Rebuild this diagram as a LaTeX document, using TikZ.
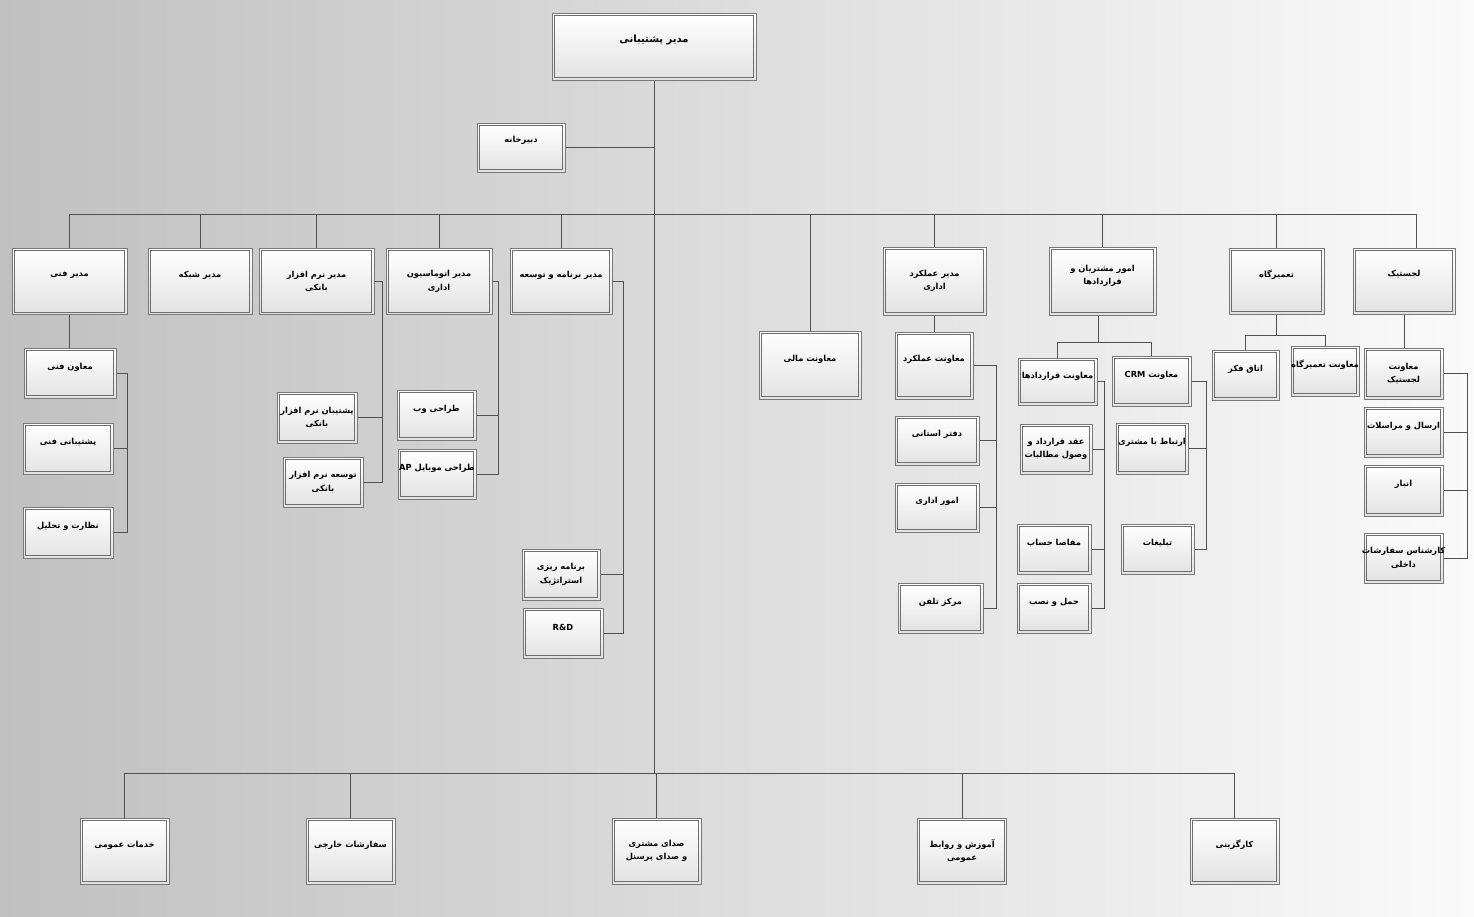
\documentclass[tikz,border=0pt]{standalone}
\usepackage{fontspec}
\newfontfamily\arabicfont[Script=Arabic]{DejaVu Sans}
\TeXXeTstate=1
\definecolor{bgL}{RGB}{192,192,192}
\definecolor{bgR}{RGB}{250,250,250}
\definecolor{boxout}{RGB}{120,120,120}
\definecolor{boxin}{RGB}{110,110,110}
\definecolor{boxbot}{RGB}{226,226,226}
\definecolor{linkcol}{RGB}{80,80,80}
\newcommand\AR[1]{\beginR #1\endR}
\newcommand\bx[7]{%
  \node[obox, minimum width=#4pt, minimum height=#5pt] (#1) at (#2,#3) {};
  \draw[ibox] ([shift={(2.6,2.6)}]#1.north west) rectangle ([shift={(-2.6,-2.6)}]#1.south east);
  \node[btxt] (#1-t) at ([yshift=#6pt]#1.center) {#7};}
\begin{document}
\begin{tikzpicture}[x=1pt,y=-1pt,
  obox/.style={draw=boxout, line width=1pt, top color=white, bottom color=boxbot, inner sep=0pt},
  ibox/.style={draw=boxin, line width=0.9pt},
  btxt/.style={align=center, inner sep=0pt, font=\arabicfont\bfseries\fontsize{8.3}{13.5}\selectfont},
  link/.style={draw=linkcol, line width=1pt}]
\useasboundingbox (0,0) rectangle (1474,916);
\shade[left color=bgL, right color=bgR] (0,0) rectangle (1474,916);

% top
\bx{top}{654}{46.5}{204}{67}{6.5}{{\fontsize{10}{12}\selectfont\AR{مدیر پشتیبانی}}}
\bx{dabir}{521}{147.5}{88}{49}{7}{\AR{دبیرخانه}}

% first row
\bx{mfani}{69.5}{281.5}{115}{66}{6.5}{\AR{مدیر فنی}}
\bx{mshabake}{200}{281.5}{104}{66}{6.5}{\AR{مدیر شبکه}}
\bx{mnarm}{316.5}{281.5}{115}{66}{0}{\AR{مدیر نرم افزار}\\\AR{بانکی}}
\bx{mauto}{439}{281.5}{106}{66}{0}{\AR{مدیر اتوماسیون}\\\AR{اداری}}
\bx{mbarname}{561}{281.5}{102}{66}{6.5}{\AR{مدیر برنامه و توسعه}}
\bx{mamali}{810}{365}{102}{68}{6}{\AR{معاونت مالی}}
\bx{mamalkard}{934.5}{281}{103}{68}{0}{\AR{مدیر عملکرد}\\\AR{اداری}}
\bx{omoor}{1102.5}{281}{107}{68}{5}{\AR{امور مشتریان و}\\\AR{قراردادها}}
\bx{tamir}{1276.5}{281}{95}{66}{6.5}{\AR{تعمیرگاه}}
\bx{lojistik}{1404}{281}{102}{66}{6.5}{\AR{لجستیک}}

% fani
\bx{maavenfani}{70}{373}{92}{50}{6}{\AR{معاون فنی}}
\bx{poshtfani}{68}{448.5}{90}{51}{6}{\AR{پشتیبانی فنی}}
\bx{nezarat}{68}{532.5}{90}{51}{6}{\AR{نظارت و تحلیل}}
% narm
\bx{poshtnarm}{317}{417.5}{80}{51}{0}{\AR{پشتیبان نرم افزار}\\\AR{بانکی}}
\bx{toseenarm}{323}{482}{80}{50}{0}{\AR{توسعه نرم افزار}\\\AR{بانکی}}
% auto
\bx{web}{436.5}{415}{79}{50}{6}{\AR{طراحی وب}}
\bx{mobile}{437}{474}{78}{50}{6}{\AR{طراحی موبایل \beginL AP\endL}}
% barname
\bx{strat}{561}{574.5}{78}{51}{0}{\AR{برنامه ریزی}\\\AR{استراتژیک}}
\bx{rnd}{563}{633}{80}{50}{6}{R\&D}
% amalkard
\bx{maamalkard}{934}{365.5}{78}{67}{6}{\AR{معاونت عملکرد}}
\bx{daftar}{937}{440.5}{84}{49}{6}{\AR{دفتر استانی}}
\bx{omooradari}{937}{507.5}{84}{49}{6}{\AR{امور اداری}}
\bx{markaz}{940.5}{608}{85}{50}{6}{\AR{مرکز تلفن}}
% omoor
\bx{maqarar}{1057.5}{381.5}{79}{47}{5.5}{\AR{معاونت قراردادها}}
\bx{crm}{1151.5}{381}{79}{50}{6}{\AR{معاونت \beginL CRM\endL}}
\bx{aqd}{1056}{449}{72}{50}{0}{\AR{عقد قرارداد و}\\\AR{وصول مطالبات}}
\bx{mafasa}{1054}{549}{74}{50}{6}{\AR{مفاصا حساب}}
\bx{haml}{1054}{608}{74}{50}{6}{\AR{حمل و نصب}}
\bx{ertebat}{1152}{448.5}{72}{51}{6}{\AR{ارتباط با مشتری}}
\bx{tablighat}{1157.5}{549}{73}{50}{6}{\AR{تبلیغات}}
% tamir
\bx{otaq}{1245.5}{375}{67}{50}{6}{\AR{اتاق فکر}}
\bx{maatamir}{1325}{371}{68}{50}{6}{\AR{معاونت تعمیرگاه}}
% lojistik
\bx{maalojistik}{1403.5}{373.5}{79}{51}{0}{\AR{معاونت}\\\AR{لجستیک}}
\bx{ersal}{1403.5}{432}{79}{50}{6}{\AR{ارسال و مراسلات}}
\bx{anbar}{1403.5}{490.5}{79}{51}{6}{\AR{انبار}}
\bx{karshenas}{1403.5}{558}{79}{50}{0}{\AR{کارشناس سفارشات}\\\AR{داخلی}}
% bottom
\bx{khadamat}{124.5}{851}{89}{66}{6}{\AR{خدمات عمومی}}
\bx{sefareshat}{350.5}{851}{89}{66}{6}{\AR{سفارشات خارجی}}
\bx{seda}{656.5}{851}{89}{66}{0}{\AR{صدای مشتری}\\\AR{و صدای پرسنل}}
\bx{amoozesh}{962}{851}{89}{66}{0}{\AR{آموزش و روابط}\\\AR{عمومی}}
\bx{kargozini}{1234.5}{851}{89}{66}{6}{\AR{کارگزینی}}

% connectors
\coordinate (bbus) at (655,773);
\draw[link] (top.south) -- (top.south |- bbus);
\draw[link] (dabir.east) -- (dabir.east -| top.south);
\coordinate (tbL) at (69.5,214);
\coordinate (tbR) at (1416,214);
\draw[link] (tbL) -- (tbR);
\foreach \n in {mfani,mshabake,mnarm,mauto,mbarname,mamali,mamalkard,omoor,tamir}
  \draw[link] (\n.north) -- (\n.north |- tbL);
\draw[link] (tbR) -- (tbR |- lojistik.north);

\draw[link] (mfani.south) -- (mfani.south |- maavenfani.north);
\coordinate (fx) at (127,373);
\draw[link] (maavenfani.east) -- (fx) |- (nezarat.east);
\draw[link] (poshtfani.east) -- (poshtfani.east -| fx);

\coordinate (nx) at (382,281.5);
\draw[link] (mnarm.east) -- (nx) |- (toseenarm.east);
\draw[link] (poshtnarm.east) -- (poshtnarm.east -| nx);

\coordinate (ax) at (498,281.5);
\draw[link] (mauto.east) -- (ax) |- (mobile.east);
\draw[link] (web.east) -- (web.east -| ax);

\coordinate (px) at (623,281.5);
\draw[link] (mbarname.east) -- (px) |- (rnd.east);
\draw[link] (strat.east) -- (strat.east -| px);

\draw[link] (mamalkard.south) -- (mamalkard.south |- maamalkard.north);
\coordinate (kx) at (996,365.5);
\draw[link] (maamalkard.east) -- (kx) |- (markaz.east);
\draw[link] (daftar.east) -- (daftar.east -| kx);
\draw[link] (omooradari.east) -- (omooradari.east -| kx);

\coordinate (oy) at (1098,342);
\draw[link] (omoor.south -| oy) -- (oy);
\draw[link] (maqarar.north) -- (maqarar.north |- oy) -- (crm.north |- oy) -- (crm.north);
\coordinate (qx) at (1104,381.5);
\draw[link] (maqarar.east) -- (qx) |- (haml.east);
\draw[link] (aqd.east) -- (aqd.east -| qx);
\draw[link] (mafasa.east) -- (mafasa.east -| qx);
\coordinate (rx) at (1206,381);
\draw[link] (crm.east) -- (rx) |- (tablighat.east);
\draw[link] (ertebat.east) -- (ertebat.east -| rx);

\coordinate (ty) at (1276.5,335);
\draw[link] (tamir.south) -- (ty);
\draw[link] (otaq.north) -- (otaq.north |- ty) -- (maatamir.north |- ty) -- (maatamir.north);

\draw[link] (lojistik.south) -- (lojistik.south |- maalojistik.north);
\coordinate (lx) at (1467,373.5);
\draw[link] (maalojistik.east) -- (lx) |- (karshenas.east);
\draw[link] (ersal.east) -- (ersal.east -| lx);
\draw[link] (anbar.east) -- (anbar.east -| lx);

\draw[link] (khadamat.north |- bbus) -- (kargozini.north |- bbus);
\foreach \n in {khadamat,sefareshat,seda,amoozesh,kargozini}
  \draw[link] (\n.north) -- (\n.north |- bbus);
\end{tikzpicture}
\end{document}
